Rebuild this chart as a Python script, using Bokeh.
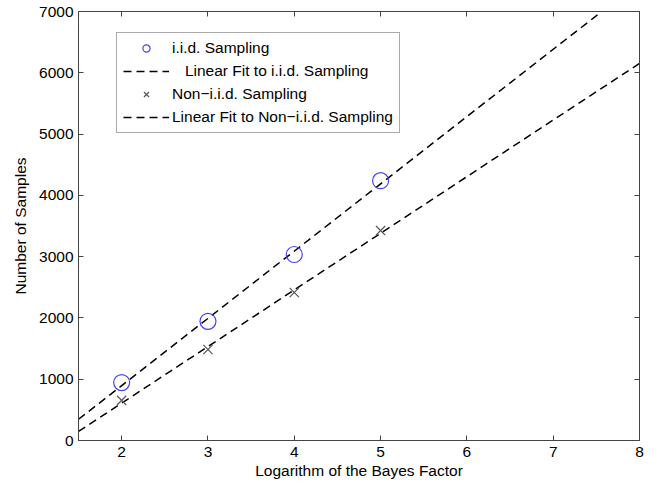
import numpy as np
from bokeh.plotting import figure
from bokeh.models import Range1d, FixedTicker, LinearAxis, Legend, LegendItem, ColumnDataSource
from bokeh.embed import file_html
from bokeh.resources import INLINE

# Data
log_bayes = [2, 3, 4, 5]
iid_samples = [945, 1945, 3035, 4240]
noniid_samples = [655, 1485, 2415, 3425]
x_ticks = [2, 3, 4, 5, 6, 7, 8]
y_ticks = [0, 1000, 2000, 3000, 4000, 5000, 6000, 7000]
x_limits = [1.5, 8]
y_limits = [0, 7000]

labels = ["i.i.d. Sampling",
          "\u00a0\u00a0\u00a0Linear Fit to i.i.d. Sampling",
          "Non\u2212i.i.d. Sampling",
          "Linear Fit to Non\u2212i.i.d. Sampling"]

FONT = "Liberation Sans"
FS = "15.5px"
AX = "#444444"

# Linear fits of the data
k1, b1 = np.polyfit(log_bayes, iid_samples, 1)
k2, b2 = np.polyfit(log_bayes, noniid_samples, 1)
fit_x = np.array(x_limits, dtype=float)
fit_iid = k1 * fit_x + b1
fit_non = k2 * fit_x + b2

p = figure(width=658, height=486, output_backend="svg", toolbar_location=None,
           x_range=Range1d(*x_limits), y_range=Range1d(*y_limits),
           min_border_left=78, min_border_right=19, min_border_top=11, min_border_bottom=46)
p.background_fill_color = "white"
p.border_fill_color = "white"
p.outline_line_color = AX
p.outline_line_width = 1
p.xgrid.visible = False
p.ygrid.visible = False

src_iid = ColumnDataSource(dict(x=log_bayes, y=iid_samples))
src_non = ColumnDataSource(dict(x=log_bayes, y=noniid_samples))

r_fit1 = p.line(fit_x, fit_iid, line_color="black", line_width=1.5, line_dash="8 5")
r_fit2 = p.line(fit_x, fit_non, line_color="black", line_width=1.5, line_dash="8 5")
r_iid = p.scatter("x", "y", source=src_iid, marker="circle", size=16, fill_color=None,
                  line_color="#4444f2", line_width=1.2)
r_non = p.scatter("x", "y", source=src_non, marker="x", size=13, line_color="#555555",
                  line_width=1.2)

xa = p.xaxis[0]
ya = p.yaxis[0]
xa.ticker = FixedTicker(ticks=x_ticks)
ya.ticker = FixedTicker(ticks=y_ticks)
for ax in (xa, ya):
    ax.axis_line_color = AX
    ax.major_tick_line_color = AX
    ax.major_tick_in = 5
    ax.major_tick_out = 0
    ax.minor_tick_line_color = None
    ax.major_label_text_font = FONT
    ax.major_label_text_font_size = FS
    ax.major_label_text_color = "black"
    ax.axis_label_text_font = FONT
    ax.axis_label_text_font_size = FS
    ax.axis_label_text_font_style = "normal"
    ax.axis_label_text_color = "black"
xa.axis_label = "Logarithm of the Bayes Factor"
ya.axis_label = "Number of Samples"
xa.major_label_standoff = 6
xa.axis_label_standoff = 2
ya.major_label_standoff = 5
ya.axis_label_standoff = 7
ya.major_label_orientation = "horizontal"

# Box ticks on top and right (no labels)
top = LinearAxis(ticker=FixedTicker(ticks=x_ticks))
right = LinearAxis(ticker=FixedTicker(ticks=y_ticks))
for ax in (top, right):
    ax.axis_line_color = AX
    ax.major_tick_line_color = AX
    ax.major_tick_in = 5
    ax.major_tick_out = 0
    ax.minor_tick_line_color = None
    ax.major_label_text_font_size = "1px"
    ax.major_label_text_color = None
    ax.major_label_standoff = 0
    ax.axis_label = None
p.add_layout(top, "above")
p.add_layout(right, "right")

legend = Legend(items=[LegendItem(label=labels[0], renderers=[r_iid]),
                       LegendItem(label=labels[1], renderers=[r_fit1]),
                       LegendItem(label=labels[2], renderers=[r_non]),
                       LegendItem(label=labels[3], renderers=[r_fit2])],
                location=(38, 307), margin=0, padding=6, spacing=5,
                glyph_width=46, glyph_height=18, label_height=18, label_standoff=3,
                label_text_font=FONT, label_text_font_size=FS, label_text_color="black",
                border_line_color="#555555", border_line_width=1,
                background_fill_color="white", background_fill_alpha=1.0)
p.add_layout(legend, "center")

open("out.html", "w").write(file_html(p, INLINE))
